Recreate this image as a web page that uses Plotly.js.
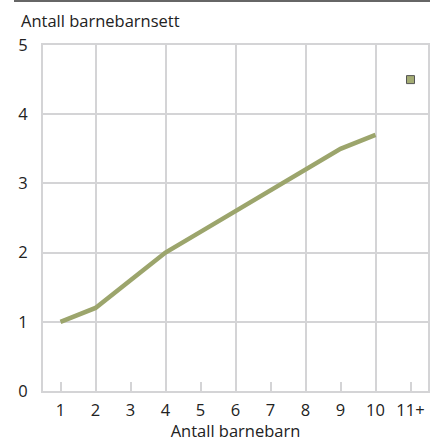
<!DOCTYPE html>
<html><head><meta charset="utf-8">
<script src="https://cdn.plot.ly/plotly-3.0.1.min.js"></script>
<style>html,body{margin:0;padding:0;background:#fff}#c{width:430px;height:442px}</style>
</head><body><div id="c"></div>
<script>
const categories = [1,2,3,4,5,6,7,8,9,10];
const tickLabels = ['1','2','3','4','5','6','7','8','9','10','11+'];
const tickPositions = [1,2,3,4,5,6,7,8,9,10,11];
const values = [1.0,1.2,1.6,2.0,2.3,2.6,2.9,3.2,3.5,3.7];
const extraCategory = [11];
const extraValue = [4.5];

const grid = '#d4d4d6';
const font = {family:'Open Sans, Noto Sans, sans-serif', size:16.5, color:'#222'};
const H=442, W=430, ml=43, mr=2, mt=45, mb=51;
const pw=W-ml-mr, ph=H-mt-mb;

Plotly.newPlot('c',[
 {x:categories,y:values,type:'scatter',mode:'lines',line:{color:'#9ca56c',width:4.5},hoverinfo:'skip'},
 {x:extraCategory,y:extraValue,type:'scatter',mode:'markers',marker:{symbol:'square',size:8,color:'#a4ac74',line:{color:'#555',width:1}},hoverinfo:'skip'}
],{
 width:W,height:H,margin:{l:ml,r:mr,t:mt,b:mb},
 paper_bgcolor:'#fff',plot_bgcolor:'#fff',showlegend:false,font:font,
 title:{text:'Antall barnebarnsett',font:font,xref:'container',x:21/W,xanchor:'left',yref:'container',y:1-21/H,yanchor:'middle'},
 xaxis:{range:[0.5,11.5],tickmode:'array',tickvals:tickPositions,ticktext:tickLabels,showgrid:false,zeroline:false,
   ticks:'inside',ticklen:9,tickwidth:2,tickcolor:grid,showline:true,linecolor:grid,linewidth:2,mirror:true,
   minor:{tickmode:'array',tickvals:[2,4,6,8,10],showgrid:true,gridcolor:grid,gridwidth:2,ticks:''},
   tickfont:font,ticklabelstandoff:3,
   title:{text:'Antall barnebarn',font:font,standoff:0}},
 yaxis:{range:[0,5],tickvals:[0,1,2,3,4,5],showgrid:true,gridcolor:grid,gridwidth:2,zeroline:false,
   showline:true,linecolor:grid,linewidth:2,mirror:true,ticks:'',tickfont:font,ticklabelstandoff:10},
 shapes:[{type:'line',xref:'paper',yref:'paper',x0:(14-ml)/pw,x1:(W-ml+2)/pw,y0:(H-mb-1)/ph,y1:(H-mb-1)/ph,line:{color:'#333',width:1.5}}]
},{staticPlot:true});
</script></body></html>
